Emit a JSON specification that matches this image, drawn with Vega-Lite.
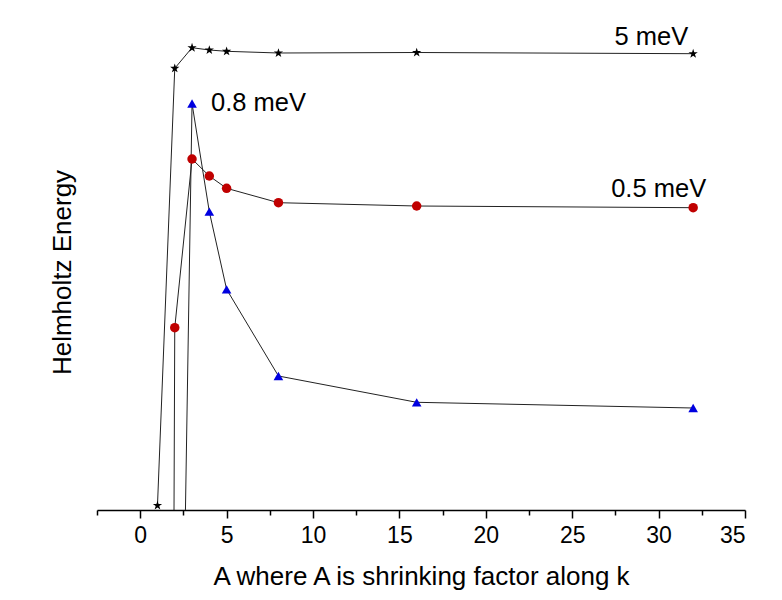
{
  "$schema": "https://vega.github.io/schema/vega-lite/v6.json",
  "autosize": {"type": "none"},
  "width": 648,
  "height": 490,
  "padding": {"left": 97, "top": 20, "right": 37, "bottom": 90},
  "background": "white",
  "config": {
    "view": {"stroke": null},
    "font": "Liberation Sans",
    "axis": {"labelFont": "Liberation Sans", "titleFont": "Liberation Sans", "titleFontWeight": "normal", "grid": false}
  },
  "data": {
    "values": [
      {"series": "5 meV", "A": 1, "E": 4.5},
      {"series": "5 meV", "A": 2, "E": 441.7},
      {"series": "5 meV", "A": 3, "E": 462.3},
      {"series": "5 meV", "A": 4, "E": 460},
      {"series": "5 meV", "A": 5, "E": 458.7},
      {"series": "5 meV", "A": 8, "E": 457},
      {"series": "5 meV", "A": 16, "E": 457.5},
      {"series": "5 meV", "A": 32, "E": 456.3},
      {"series": "0.8 meV", "A": 2, "E": -659},
      {"series": "0.8 meV", "A": 3, "E": 406.5},
      {"series": "0.8 meV", "A": 4, "E": 298.3},
      {"series": "0.8 meV", "A": 5, "E": 220.7},
      {"series": "0.8 meV", "A": 8, "E": 134},
      {"series": "0.8 meV", "A": 16, "E": 107.7},
      {"series": "0.8 meV", "A": 32, "E": 102},
      {"series": "0.5 meV", "A": 1, "E": -4000},
      {"series": "0.5 meV", "A": 2, "E": 182.3},
      {"series": "0.5 meV", "A": 3, "E": 351},
      {"series": "0.5 meV", "A": 4, "E": 334},
      {"series": "0.5 meV", "A": 5, "E": 321.7},
      {"series": "0.5 meV", "A": 8, "E": 307.3},
      {"series": "0.5 meV", "A": 16, "E": 304},
      {"series": "0.5 meV", "A": 32, "E": 302.3}
    ]
  },
  "encoding": {
    "x": {
      "field": "A", "type": "quantitative",
      "scale": {"domain": [-2.5, 35], "nice": false, "zero": false},
      "axis": {
        "title": "A where A is shrinking factor along k",
        "titleFontSize": 26, "titleColor": "black", "titlePadding": 16,
        "values": [-2.5, 0, 2.5, 5, 7.5, 10, 12.5, 15, 17.5, 20, 22.5, 25, 27.5, 30, 32.5, 35],
        "labelExpr": "datum.value % 5 === 0 ? datum.label : ''",
        "labelFontSize": 23, "labelColor": "black", "labelPadding": 6,
        "domainColor": "black", "domainWidth": 1.5,
        "tickColor": "black", "tickWidth": 1.5,
        "tickSize": {"condition": {"test": "datum.value % 5 === 0", "value": 8}, "value": 5}
      }
    },
    "y": {
      "field": "E", "type": "quantitative",
      "scale": {"domain": [0, 490], "nice": false, "zero": false},
      "axis": {
        "title": "Helmholtz Energy", "titleFontSize": 26, "titleColor": "black",
        "domain": false, "ticks": false, "labels": false,
        "titleX": -27, "titleY": 252, "titleAngle": -90, "titleAlign": "center", "titleBaseline": "alphabetic"
      }
    }
  },
  "layer": [
    {
      "mark": {"type": "line", "clip": true, "color": "#222222", "strokeWidth": 1},
      "encoding": {"detail": {"field": "series"}}
    },
    {
      "mark": {"type": "point", "clip": true, "filled": true, "opacity": 1},
      "encoding": {
        "shape": {
          "field": "series", "type": "nominal", "legend": null,
          "scale": {
            "domain": ["5 meV", "0.8 meV", "0.5 meV"],
            "range": ["M0,-1L0.2245,-0.309L0.951,-0.309L0.363,0.118L0.588,0.809L0,0.427L-0.588,0.809L-0.363,0.118L-0.951,-0.309L-0.2245,-0.309Z", "triangle-up", "circle"]
          }
        },
        "color": {
          "field": "series", "type": "nominal", "legend": null,
          "scale": {"domain": ["5 meV", "0.8 meV", "0.5 meV"], "range": ["#000000", "#0000e0", "#c00000"]}
        },
        "size": {
          "field": "series", "type": "nominal", "legend": null,
          "scale": {"domain": ["5 meV", "0.8 meV", "0.5 meV"], "range": [95, 90, 48]}
        }
      }
    },
    {
      "transform": [{"filter": "datum.series === '5 meV' && datum.A === 32"}],
      "mark": {"type": "text", "text": "5 meV", "fontSize": 25.5, "align": "right", "baseline": "alphabetic", "dx": -5, "dy": -9, "color": "black"}
    },
    {
      "transform": [{"filter": "datum.series === '0.5 meV' && datum.A === 32"}],
      "mark": {"type": "text", "text": "0.5 meV", "fontSize": 25.5, "align": "right", "baseline": "alphabetic", "dx": 13, "dy": -11, "color": "black"}
    },
    {
      "transform": [{"filter": "datum.series === '0.8 meV' && datum.A === 3"}],
      "mark": {"type": "text", "text": "0.8 meV", "fontSize": 25.5, "align": "left", "baseline": "alphabetic", "dx": 19, "dy": 7, "color": "black"}
    }
  ]
}
